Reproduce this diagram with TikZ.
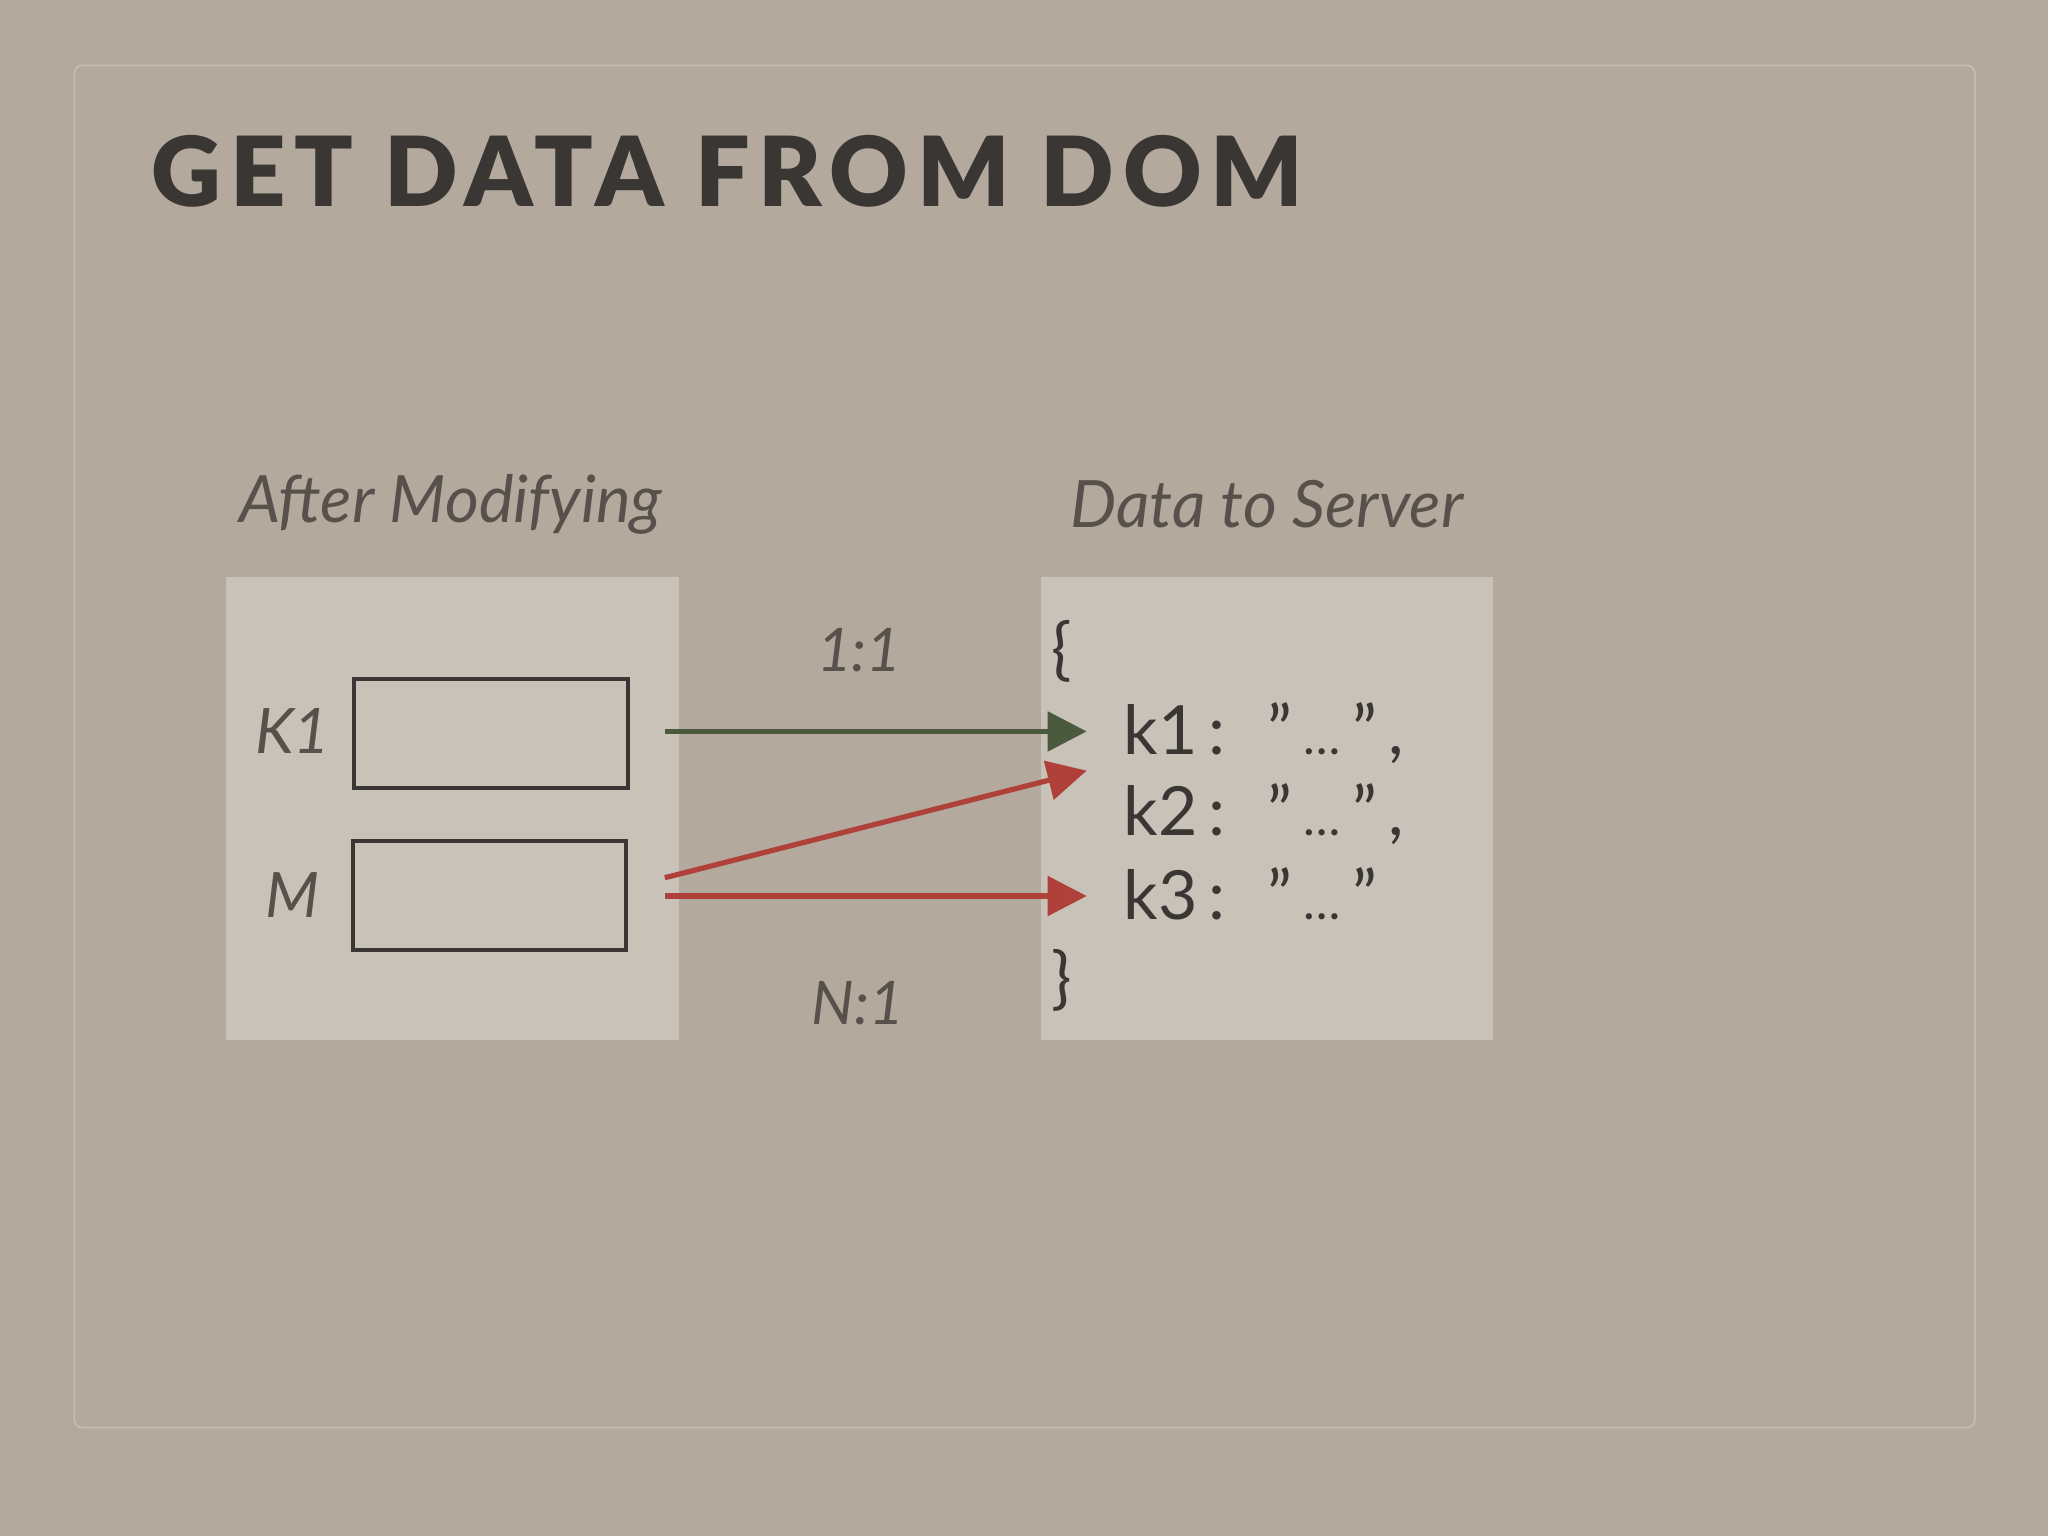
\documentclass[tikz,border=0pt]{standalone}
\usepackage{fontspec}
\setmainfont{Lato}
\newfontfamily\titlefont[LetterSpace=9]{Lato Black}
\usetikzlibrary{arrows.meta}
\definecolor{bg}{HTML}{B3A99C}
\definecolor{boxfill}{HTML}{C8C2B9}
\definecolor{ink}{HTML}{3A3633}
\definecolor{lab}{HTML}{58504A}
\definecolor{grn}{HTML}{4B5A3C}
\definecolor{red1}{HTML}{B0413A}
\newcommand{\dq}{\symbol{34}}
\newcommand{\val}{\dq\,{\fontsize{38}{40}\selectfont\ldots}\,\dq}
\tikzset{
  lbl/.style={font=\fontsize{50}{56}\selectfont\itshape, text=lab, inner sep=0},
  code/.style={font=\fontsize{52}{58}\selectfont, text=ink, inner sep=0, anchor=base west},
  field/.style={draw=ink, line width=3pt},
  pane/.style={fill=boxfill},
  arr/.style={line width=4pt, -{Triangle[length=30pt,width=30pt]}},
}
\begin{document}
\begin{tikzpicture}[x=1pt,y=-1pt]
\fill[bg] (0,0) rectangle (1568,1176);
\useasboundingbox (0,0) rectangle (1568,1176);
\draw[white!25!bg, line width=1.2pt, rounded corners=6pt] (57,50) rectangle (1512,1093);
\node[anchor=base west, inner sep=0, text=ink, font=\fontsize{74}{80}\selectfont\titlefont] (title) at (116,158) {GET DATA FROM DOM};
\node[lbl] (after) at (345,386) {After Modifying};
\node[lbl] (data) at (970,386) {Data to Server};
\fill[pane] (173,442) rectangle (520,796);
\fill[pane] (797,442) rectangle (1143,796);
\node[lbl, font=\fontsize{48}{54}\selectfont\itshape] (k1l) at (224,560) {K1};
\node[lbl, font=\fontsize{48}{54}\selectfont\itshape] (ml) at (224,685) {M};
\draw[field] (271,520) rectangle (481,603);
\draw[field] (270,644) rectangle (479,727);
\node[lbl, font=\fontsize{46}{52}\selectfont\itshape] (one) at (658,498) {1:1};
\node[lbl, font=\fontsize{46}{52}\selectfont\itshape] (n) at (657,768) {N:1};
\node[code] (ob) at (805,515) {\{};
\node[code] (l1) at (860,578) {k1\,:\hspace{32pt}\val\,,};
\node[code] (l2) at (860,640) {k2\,:\hspace{32pt}\val\,,};
\node[code] (l3) at (860,704) {k3\,:\hspace{32pt}\val};
\node[code] (cb) at (805,767) {\}};
\coordinate (s1) at (509,560);
\coordinate (s2) at (509,672);
\coordinate (s3) at (509,686);
\coordinate (e1) at (832,560);
\coordinate (e2) at (832,590);
\coordinate (e3) at (832,686);
\draw[arr, grn] (s1) -- (e1);
\draw[arr, red1] (s2) -- (e2);
\draw[arr, red1] (s3) -- (e3);
\end{tikzpicture}
\end{document}
